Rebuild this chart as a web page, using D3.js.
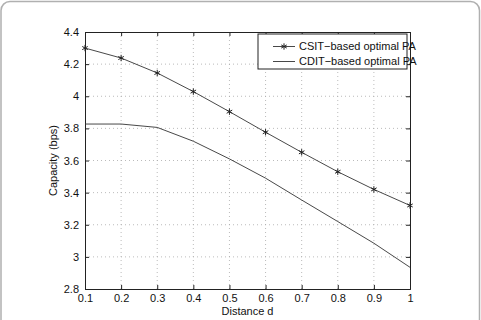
<!DOCTYPE html>
<html>
<head>
<meta charset="utf-8">
<script src="https://cdn.jsdelivr.net/npm/d3@7"></script>
<style>
  body { margin: 0; background: #fff; }
  text { font-family: "Liberation Sans", Arial, sans-serif; fill: #111; }
</style>
</head>
<body>
<div id="chart"></div>
<script>
// data
var distances = [0.1, 0.2, 0.3, 0.4, 0.5, 0.6, 0.7, 0.8, 0.9, 1.0];
var csitValues = [4.30, 4.238, 4.145, 4.029, 3.904, 3.776, 3.651, 3.530, 3.420, 3.320];
var cditValues = [3.827, 3.827, 3.806, 3.720, 3.610, 3.490, 3.354, 3.220, 3.085, 2.935];
var xTicks = [0.1, 0.2, 0.3, 0.4, 0.5, 0.6, 0.7, 0.8, 0.9, 1];
var yTicks = [2.8, 3, 3.2, 3.4, 3.6, 3.8, 4, 4.2, 4.4];
var seriesNames = ["CSIT\u2212based optimal PA", "CDIT\u2212based optimal PA"];

var W = 481, H = 320;
var margin = {top: 32, right: 71, bottom: 31, left: 85};
var width = W - margin.left - margin.right,
    height = H - margin.top - margin.bottom;

var svg = d3.select("#chart").append("svg")
  .attr("width", W)
  .attr("height", H);

// outer rounded frame
svg.append("rect")
  .attr("x", 1).attr("y", 1.5)
  .attr("width", W - 2.5).attr("height", H + 20)
  .attr("rx", 9)
  .attr("fill", "none")
  .attr("stroke", "#b0b0b0")
  .attr("stroke-width", 1.5);

var g = svg.append("g")
  .attr("transform", "translate(" + margin.left + "," + margin.top + ")");

// Scales
var x = d3.scaleLinear().domain([0.1, 1]).range([0, width]);
var y = d3.scaleLinear().domain([2.8, 4.4]).range([height, 0]);

// Grid
g.append("g").selectAll("line.vg")
  .data(xTicks.slice(1, -1))
  .enter().append("line")
  .attr("x1", function(d){ return x(d); }).attr("x2", function(d){ return x(d); })
  .attr("y1", 0).attr("y2", height)
  .attr("stroke", "#aaa").attr("stroke-width", 0.8)
  .attr("stroke-dasharray", "1,3");

g.append("g").selectAll("line.hg")
  .data(yTicks.slice(1, -1))
  .enter().append("line")
  .attr("y1", function(d){ return y(d); }).attr("y2", function(d){ return y(d); })
  .attr("x1", 0).attr("x2", width)
  .attr("stroke", "#aaa").attr("stroke-width", 0.8)
  .attr("stroke-dasharray", "1,3");

// Axes (ticks inward, box on all sides)
var fmt = function(d){ return String(+d.toFixed(1)); };

var xAxis = g.append("g")
  .attr("transform", "translate(0," + height + ")")
  .call(d3.axisBottom(x).tickValues(xTicks).tickSize(-4).tickPadding(6).tickFormat(fmt));
var yAxis = g.append("g")
  .call(d3.axisLeft(y).tickValues(yTicks).tickSize(-4).tickPadding(6).tickFormat(fmt));
var xTop = g.append("g")
  .call(d3.axisTop(x).tickValues(xTicks).tickSize(-4).tickFormat(""));
var yRight = g.append("g")
  .attr("transform", "translate(" + width + ",0)")
  .call(d3.axisRight(y).tickValues(yTicks).tickSize(-4).tickFormat(""));

[xAxis, yAxis, xTop, yRight].forEach(function(a){
  a.selectAll("path.domain").attr("stroke", "#222").attr("stroke-width", 1);
  a.selectAll(".tick line").attr("stroke", "#222");
  a.selectAll("text").style("font-size", "11px")
    .style("font-family", "'Liberation Sans', Arial, sans-serif").attr("fill", "#111");
});
xAxis.selectAll("text").attr("dy", "0.6em");

// Axis labels
g.append("text")
  .attr("text-anchor", "middle")
  .attr("transform", "translate(" + (-28) + "," + (height / 2) + ")rotate(-90)")
  .style("font-size", "11px")
  .text("Capacity (bps)");

g.append("text")
  .attr("text-anchor", "middle")
  .attr("x", width / 2)
  .attr("y", height + 26)
  .style("font-size", "11px")
  .text("Distance d");

// Lines
var line = d3.line()
  .x(function(d, i){ return x(distances[i]); })
  .y(function(d){ return y(d); });

g.append("path")
  .attr("d", line(csitValues))
  .attr("fill", "none").attr("stroke", "#333").attr("stroke-width", 0.9);

g.append("path")
  .attr("d", line(cditValues))
  .attr("fill", "none").attr("stroke", "#333").attr("stroke-width", 0.9);

// asterisk markers
var star = d3.symbol().type(d3.symbolAsterisk).size(28);
g.selectAll("path.mark")
  .data(csitValues)
  .enter().append("path")
  .attr("class", "mark")
  .attr("d", star)
  .attr("transform", function(d, i){ return "translate(" + x(distances[i]) + "," + y(d) + ")"; })
  .attr("fill", "none").attr("stroke", "#222").attr("stroke-width", 1);

// Legend
var lg = g.append("g").attr("transform", "translate(" + (258 - margin.left) + "," + (34 - margin.top) + ")");
lg.append("rect")
  .attr("width", 149).attr("height", 35)
  .attr("fill", "#fff").attr("stroke", "#222").attr("stroke-width", 1);

seriesNames.forEach(function(name, i){
  var yy = 12.5 + i * 15;
  lg.append("line")
    .attr("x1", 15).attr("x2", 37).attr("y1", yy).attr("y2", yy)
    .attr("stroke", "#333").attr("stroke-width", 0.9);
  if (i === 0) {
    lg.append("path")
      .attr("d", star)
      .attr("transform", "translate(26," + yy + ")")
      .attr("fill", "none").attr("stroke", "#222").attr("stroke-width", 1);
  }
  lg.append("text")
    .attr("x", 41).attr("y", yy).attr("dy", "0.35em")
    .style("font-size", "11px")
    .text(name);
});
</script>
</body>
</html>
